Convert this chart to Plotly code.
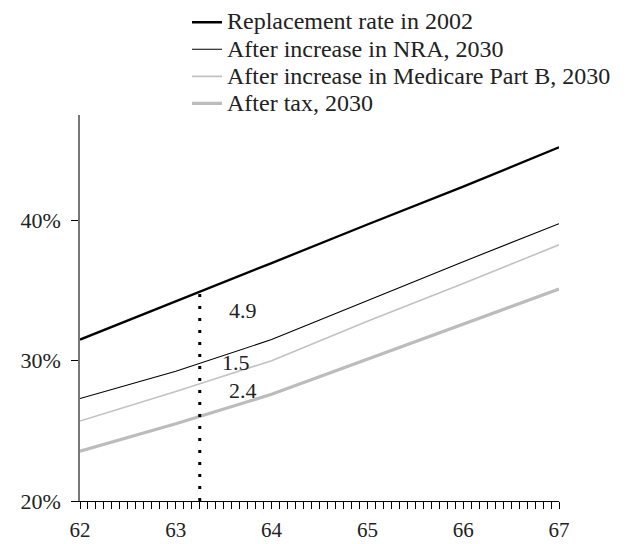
import numpy as np
import plotly.graph_objects as go

ages = [62, 63, 64, 65, 66, 67]
replacement_2002 = [31.5, 34.2, 36.95, 39.7, 42.4, 45.2]
after_nra_2030 = [27.3, 29.25, 31.5, 34.3, 37.05, 39.75]
after_medicare_2030 = [25.7, 27.8, 30.0, 32.8, 35.5, 38.25]
after_tax_2030 = [23.55, 25.5, 27.6, 30.1, 32.6, 35.1]

series_names = [
    "Replacement rate in 2002",
    "After increase in NRA, 2030",
    "After increase in Medicare Part B, 2030",
    "After tax, 2030",
]

marker_age = 63.25
gap_labels = ["4.9", "1.5", "2.4"]
gap_label_ages = [63.70, 63.63, 63.70]
gap_label_values = [33.6, 29.85, 27.9]

y_tick_vals = [20, 30, 40]
y_tick_text = ["20%", "30%", "40%"]
months_per_year = 12

# monthly ticks, labelled only at whole years
x_tick_vals = [62 + m / months_per_year for m in range(5 * months_per_year + 1)]
x_tick_text = [str(62 + m // months_per_year) if m % months_per_year == 0 else ""
               for m in range(5 * months_per_year + 1)]

FONT = "Liberation Serif"

fig = go.Figure()
styles = [
    dict(color="#000000", width=2.3),
    dict(color="#000000", width=1.1),
    dict(color="#c2c2c2", width=1.6),
    dict(color="#bcbcbc", width=3.2),
]
for name, ys, st in zip(series_names,
                        [replacement_2002, after_nra_2030, after_medicare_2030, after_tax_2030],
                        styles):
    fig.add_trace(go.Scatter(x=ages, y=ys, mode="lines",
                             name='<span style="font-size:24px">' + name + '</span>',
                             line=st, hoverinfo="skip"))

top_at_marker = float(np.interp(marker_age, ages, replacement_2002))
fig.add_trace(go.Scatter(x=[marker_age, marker_age], y=[20, top_at_marker], mode="lines",
                         line=dict(color="#000000", width=3, dash="3px,9px"),
                         showlegend=False, hoverinfo="skip"))

for t, xa, ya in zip(gap_labels, gap_label_ages, gap_label_values):
    fig.add_annotation(x=xa, y=ya, text=t, showarrow=False,
                       font=dict(family=FONT, size=22, color="#222222"))

fig.update_layout(
    width=633, height=544,
    margin=dict(l=72, r=82, t=107, b=51, autoexpand=False),
    paper_bgcolor="white", plot_bgcolor="white",
    font=dict(family=FONT, size=20, color="#222222"),
    showlegend=True,
    legend=dict(x=(179 - 72) / 479, y=1 + 111 / 385,
                xanchor="left", yanchor="top", bgcolor="rgba(0,0,0,0)",
                font=dict(family=FONT, size=18.5, color="#222222"),
                tracegroupgap=0, itemwidth=30),
    xaxis=dict(range=[62, 67], showgrid=False, zeroline=False,
               showline=True, linecolor="#000000", linewidth=1.2,
               tickmode="array", tickvals=x_tick_vals, ticktext=x_tick_text,
               ticks="outside", ticklen=7, tickwidth=1, tickcolor="#000000",
               ticklabelstandoff=3,
               tickfont=dict(family=FONT, size=21, color="#222222")),
    yaxis=dict(range=[20, 47.5], showgrid=False, zeroline=False,
               showline=True, linecolor="#777777", linewidth=1.5,
               tickmode="array", tickvals=y_tick_vals, ticktext=y_tick_text,
               ticks="outside", ticklen=7, tickwidth=1, tickcolor="#000000",
               ticklabelstandoff=6,
               tickfont=dict(family=FONT, size=22, color="#222222")),
)

fig.write_html("out.html")
